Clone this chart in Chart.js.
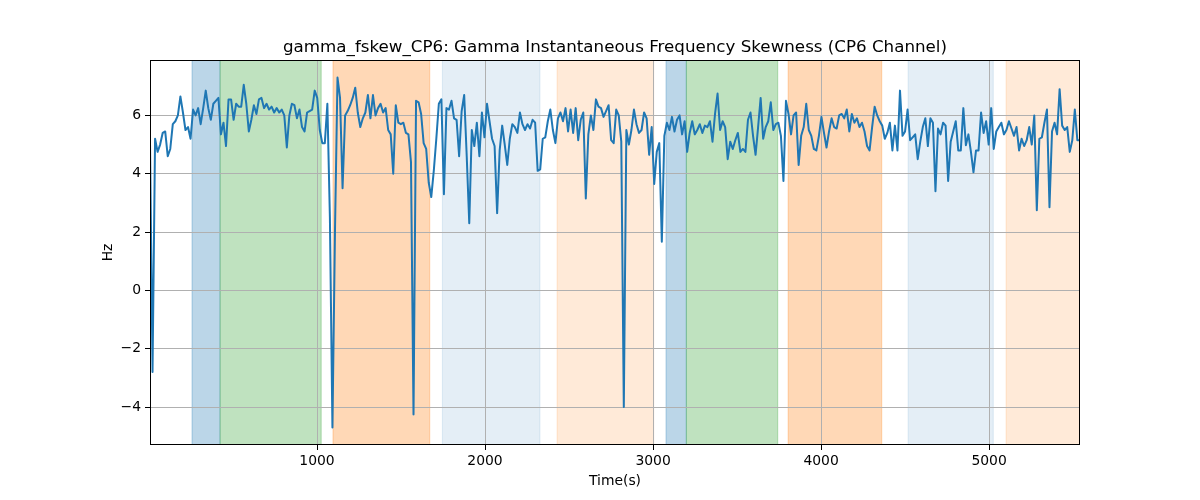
<!DOCTYPE html>
<html>
<head>
<meta charset="utf-8">
<script src="https://cdn.jsdelivr.net/npm/chart.js@4/dist/chart.umd.min.js"></script>
<style>
  html, body { margin: 0; padding: 0; background: #ffffff; }
  #wrap { width: 1200px; height: 500px; }
</style>
</head>
<body>
<div id="wrap"><canvas id="c" width="1200" height="500"></canvas></div>
<script>
// ---- data ----
const chartTitle = "gamma_fskew_CP6: Gamma Instantaneous Frequency Skewness (CP6 Channel)";
const xLabel = "Time(s)";
const yLabel = "Hz";

// sampling grid of the series (seconds)
const timeStart = 6;
const timeStep = 15.08;

// skewness values (Hz), in time order
const skewValues = [
  5.1, -2.8, 5.2, 4.75, 5.0, 5.4, 5.45, 4.6, 4.85, 5.7,
  5.8, 6.0, 6.65, 6.1, 5.5, 5.6, 5.2, 6.2, 6.0, 6.25,
  5.7, 6.25, 6.85, 6.25, 5.85, 6.4, 6.5, 6.6, 5.35, 5.75,
  4.95, 6.55, 6.55, 5.85, 6.4, 6.3, 6.3, 7.05, 6.4, 5.45,
  5.85, 6.35, 6.05, 6.55, 6.6, 6.25, 6.4,
  6.2, 6.3, 6.1, 6.25, 6.1, 6.2, 6.0, 4.9, 6.0, 6.4,
  6.35, 5.9, 6.2, 5.6, 5.45, 6.1, 6.15, 6.2, 6.85, 6.6,
  5.5, 5.05, 5.05, 6.4, 2.5, -4.7, 2.0, 7.3, 6.6, 3.5,
  6.0, 6.15, 6.35, 6.6, 6.95, 6.1, 5.6, 5.9, 6.1, 6.7,
  5.9, 6.7, 6.0, 6.25, 6.4, 6.1, 6.25, 5.5,
  5.35, 4.0, 6.35, 5.75, 5.7, 5.75, 5.4, 5.35, 4.4, -4.25,
  6.5, 6.45, 6.05, 5.05, 4.85, 3.7, 3.2, 4.1, 5.2, 6.4,
  6.55, 3.3, 6.25, 6.2, 6.5, 5.9, 5.85, 4.6, 6.15, 6.7,
  4.6, 2.3, 5.5, 4.95, 5.75, 4.6, 6.1, 5.25, 6.4, 5.8,
  5.2, 4.95, 2.65, 4.8, 5.65, 5.0, 4.3,
  5.2, 5.7, 5.6, 5.4, 6.1, 5.7, 5.5, 5.7, 5.55, 5.85,
  5.75, 4.1, 4.15, 5.2, 5.25, 5.8, 6.2, 5.5, 5.05, 5.9,
  6.1, 5.8, 6.25, 5.45, 6.2, 5.4, 6.25, 5.15, 5.85, 6.1,
  3.15, 5.35, 6.0, 5.5, 6.55, 6.3, 6.25, 5.95, 6.15, 6.35,
  5.15, 5.05, 6.2, 6.0, 5.1, -4.0, 5.5, 5.0,
  5.5, 6.2, 5.7, 5.4, 5.5, 6.1, 5.9, 4.65, 5.6, 3.65,
  4.75, 5.05, 1.67, 5.3, 5.75, 5.5, 5.95, 5.45, 5.85, 6.0,
  5.35, 5.8, 4.75, 5.4, 5.8, 5.35, 5.5, 5.7, 5.4, 5.65,
  5.6, 5.8, 5.1, 6.05, 6.75, 5.5, 5.8, 5.6, 4.5, 5.1,
  4.85, 5.15, 5.4, 4.75, 4.85, 4.75, 5.85,
  6.1, 5.3, 4.65, 5.6, 6.6, 5.2, 5.6, 5.8, 6.45, 5.5,
  5.7, 5.75, 5.3, 3.75, 6.5, 6.05, 5.35, 6.0, 6.1, 4.3,
  5.3, 5.6, 6.4, 5.5, 5.3, 4.85, 4.8, 5.3, 5.95, 5.4,
  4.9, 5.45, 5.9, 5.6, 5.55, 6.0, 6.05, 5.9, 6.2, 5.45,
  6.05, 5.75, 5.9, 5.6, 5.75, 5.45, 4.95, 4.8,
  5.6, 6.3, 6.0, 5.8, 5.65, 5.2, 5.4, 5.75, 4.8, 5.65,
  4.8, 6.85, 5.3, 5.45, 6.2, 5.15, 5.25, 5.35, 4.5, 5.1,
  5.6, 5.9, 4.95, 5.9, 5.75, 3.4, 5.55, 5.35, 5.75, 5.65,
  3.75, 5.1, 5.45, 5.8, 4.8, 4.8, 6.25, 4.98, 5.35, 4.75,
  4.05, 4.8, 4.8, 6.1, 5.4, 5.8, 5.0,
  6.25, 4.85, 5.45, 5.6, 5.75, 5.35, 5.5, 5.8, 5.55, 5.3,
  5.6, 4.8, 5.2, 4.95, 5.15, 5.6, 5.0, 6.0, 2.75, 5.2,
  5.25, 5.75, 6.2, 2.85, 5.45, 5.75, 5.35, 6.9, 5.65, 5.5,
  5.6, 4.75, 5.15, 6.2, 5.15, 5.15
];

// shaded intervals (seconds) and their kind
const spanStarts = [256, 423, 1095, 1746, 2429, 3077, 3198, 3804, 4518, 5101];
const spanEnds   = [423, 1025, 1671, 2327, 3004, 3198, 3742, 4361, 5025, 5541];
const spanKinds  = ["blue", "green", "orange", "lightblue", "lightorange",
                    "blue", "green", "orange", "lightblue", "lightorange"];

const xTicks = [1000, 2000, 3000, 4000, 5000];
const yTicks = [-4, -2, 0, 2, 4, 6];
const xMin = 6, xMax = 5541;
const yMin = -5.3, yMax = 7.9;

// ---- styles ----
const spanStyle = {
  blue:        "rgba(31,119,180,0.30)",
  green:       "rgba(44,160,44,0.30)",
  orange:      "rgba(255,127,14,0.30)",
  lightblue:   "rgba(31,119,180,0.12)",
  lightorange: "rgba(255,127,14,0.16)"
};
const FONT = '"DejaVu Sans", "Liberation Sans", sans-serif';

const points = skewValues.map((v, i) => ({ x: timeStart + i * timeStep, y: v }));

const spansPlugin = {
  id: "spans",
  beforeDraw(chart) {
    const { ctx, chartArea: a, scales: { x } } = chart;
    ctx.save();
    ctx.beginPath();
    ctx.rect(a.left, a.top, a.right - a.left, a.bottom - a.top);
    ctx.clip();
    for (let i = 0; i < spanStarts.length; i++) {
      const x0 = x.getPixelForValue(spanStarts[i]);
      const x1 = x.getPixelForValue(spanEnds[i]);
      ctx.fillStyle = spanStyle[spanKinds[i]];
      ctx.fillRect(x0, a.top, x1 - x0, a.bottom - a.top);
      ctx.strokeStyle = spanStyle[spanKinds[i]];
      ctx.lineWidth = 1;
      ctx.beginPath();
      ctx.moveTo(x0, a.top); ctx.lineTo(x0, a.bottom);
      ctx.moveTo(x1, a.top); ctx.lineTo(x1, a.bottom);
      ctx.stroke();
    }
    ctx.restore();
  },
  afterDraw(chart) {
    const { ctx, chartArea: a } = chart;
    ctx.save();
    ctx.strokeStyle = "#000";
    ctx.lineWidth = 1;
    ctx.strokeRect(Math.round(a.left) + 0.5, Math.round(a.top) + 0.5,
                   Math.round(a.right - a.left) - 1, Math.round(a.bottom - a.top) - 1);
    ctx.fillStyle = "#000";
    ctx.textAlign = "center";
    ctx.font = "16.7px " + FONT;
    ctx.textBaseline = "alphabetic";
    ctx.fillText(chartTitle, (a.left + a.right) / 2, 52);
    ctx.font = "13.9px " + FONT;
    ctx.textBaseline = "middle";
    ctx.fillText(xLabel, (a.left + a.right) / 2, 481);
    ctx.translate(108, (a.top + a.bottom) / 2);
    ctx.rotate(-Math.PI / 2);
    ctx.fillText(yLabel, 0, 0);
    ctx.restore();
  }
};

new Chart(document.getElementById("c"), {
  type: "line",
  data: {
    datasets: [{
      data: points,
      borderColor: "#1f77b4",
      borderWidth: 2,
      pointRadius: 0,
      tension: 0,
      fill: false,
      borderJoinStyle: "round",
      borderCapStyle: "round"
    }]
  },
  options: {
    responsive: false,
    animation: false,
    devicePixelRatio: 1,
    layout: { padding: { top: 60, right: 120, left: 0, bottom: 0 } },
    plugins: { legend: { display: false }, title: { display: false }, tooltip: { enabled: false } },
    scales: {
      x: {
        type: "linear",
        min: xMin, max: xMax,
        afterBuildTicks: s => { s.ticks = xTicks.map(v => ({ value: v })); },
        afterFit: s => { s.height = 55; },
        ticks: { color: "#000", font: { family: FONT, size: 13.9 }, padding: 3, maxRotation: 0,
                 callback: v => String(v) },
        grid: { color: "#b0b0b0", lineWidth: 1, tickLength: 5, tickColor: "#000", tickWidth: 1 },
        border: { display: false }
      },
      y: {
        type: "linear",
        min: yMin, max: yMax,
        afterBuildTicks: s => { s.ticks = yTicks.map(v => ({ value: v })); },
        afterFit: s => { s.width = 150; },
        ticks: { color: "#000", font: { family: FONT, size: 13.9 }, padding: 4,
                 callback: v => (v < 0 ? "\u2212" + Math.abs(v) : String(v)) },
        grid: { color: "#b0b0b0", lineWidth: 1, tickLength: 5, tickColor: "#000", tickWidth: 1 },
        border: { display: false }
      }
    }
  },
  plugins: [spansPlugin]
});
</script>
</body>
</html>
